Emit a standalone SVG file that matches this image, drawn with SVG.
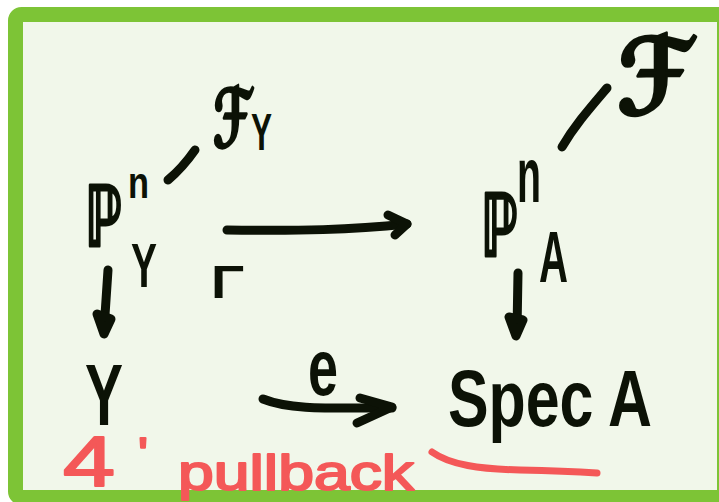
<svg xmlns="http://www.w3.org/2000/svg" width="719" height="502" viewBox="0 0 719 502">
<style>
.ink{fill:#0c1206;font-family:"Liberation Sans","DejaVu Sans",sans-serif;font-weight:bold}
.sym{fill:#0c1206;stroke:#0c1206;stroke-width:3;stroke-linejoin:round;font-family:"DejaVu Sans","Liberation Sans",sans-serif;font-weight:bold}
.plain{stroke:none;font-family:"Liberation Sans","DejaVu Sans",sans-serif}
.red{fill:#f45858;stroke:#f45858;stroke-width:2;stroke-linejoin:round;font-family:"Liberation Sans","DejaVu Sans",sans-serif;font-weight:normal}
.stroke{fill:none;stroke:#0c1206;stroke-width:9;stroke-linecap:round;stroke-linejoin:round}
.head{fill:#0c1206;stroke:#0c1206;stroke-width:9;stroke-linecap:round;stroke-linejoin:round}
</style>
<rect x="0" y="0" width="719" height="502" fill="#ffffff"/>
<rect x="15.5" y="14.5" width="709" height="483" rx="6" fill="#f1f7ea" stroke="#7dc436" stroke-width="15"/>
<g id="connectors">
<path class="stroke" d="M227 230 C300 231 350 230 407 224"/>
<path class="stroke" d="M388 215 L407 224 L395 235"/>
<path class="stroke" d="M263 399 C290 410 330 408 392 408"/>
<path class="stroke" d="M360 398 L392 407 L357 423"/>
<path class="stroke" d="M108 270 L104 330"/>
<path class="head" d="M97 314 L104 334 L111 319 Z"/>
<path class="stroke" d="M518 273 L517 330"/>
<path class="head" d="M509 317 L516 336 L523 320 Z"/>
<path class="stroke" d="M168 180 C180 170 188 160 195 150"/>
<path class="stroke" d="M562 147 C575 125 590 108 607 88"/>
</g>
<g id="node-PnY">
<text class="sym"><tspan x="85" y="246" font-size="84" textLength="37" lengthAdjust="spacingAndGlyphs">ℙ</tspan><tspan class="plain" x="128" y="198" font-size="44" textLength="21" lengthAdjust="spacingAndGlyphs">n</tspan><tspan class="plain" x="131" y="287" font-size="63" textLength="26" lengthAdjust="spacingAndGlyphs">Y</tspan></text>
</g>
<g id="node-FY">
<text class="sym"><tspan x="213" y="147" font-size="80" textLength="38" lengthAdjust="spacingAndGlyphs">ℱ</tspan><tspan class="plain" x="251" y="150" font-size="52" textLength="21" lengthAdjust="spacingAndGlyphs">Y</tspan></text>
</g>
<g id="node-PnA">
<text class="sym"><tspan x="481" y="256" font-size="86" textLength="37" lengthAdjust="spacingAndGlyphs">ℙ</tspan><tspan class="plain" x="517" y="202" font-size="77" textLength="24" lengthAdjust="spacingAndGlyphs">n</tspan><tspan class="plain" x="539" y="282" font-size="72" textLength="29" lengthAdjust="spacingAndGlyphs">A</tspan></text>
</g>
<g id="node-F">
<text class="sym" x="617" y="114" font-size="105" textLength="74" lengthAdjust="spacingAndGlyphs">ℱ</text>
</g>
<g id="node-Y">
<text class="ink" x="85" y="425" font-size="88" textLength="38" lengthAdjust="spacingAndGlyphs">Y</text>
</g>
<g id="node-SpecA">
<text class="ink" x="448" y="426" font-size="79" textLength="204" lengthAdjust="spacingAndGlyphs">Spec A</text>
</g>
<g id="label-e">
<text class="ink" x="308" y="395" font-size="80" textLength="30" lengthAdjust="spacingAndGlyphs">e</text>
</g>
<g id="pullback-corner">
<text class="ink" x="211" y="298" font-size="46" textLength="33" lengthAdjust="spacingAndGlyphs">Γ</text>
</g>
<g id="red-notes">
<path d="M432 452 C450 465 480 469 520 470 C560 471 580 472 597 473" fill="none" stroke="#f45858" stroke-width="7" stroke-linecap="round"/>
<text class="red" x="63" y="486" font-size="70" textLength="52" lengthAdjust="spacingAndGlyphs">4</text>
<text class="red" x="138" y="469" font-size="45" textLength="10" lengthAdjust="spacingAndGlyphs">'</text>
<text class="red" x="178" y="490" font-size="50" textLength="236" lengthAdjust="spacingAndGlyphs">pullback</text>
</g>
</svg>
